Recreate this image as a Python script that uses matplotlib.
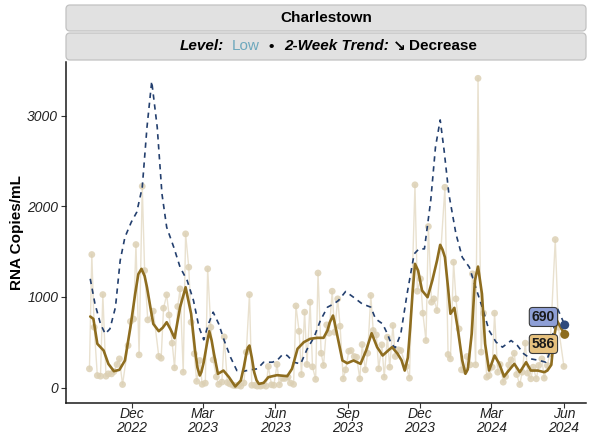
import numpy as np
import matplotlib
matplotlib.use("Agg")
import matplotlib.pyplot as plt
from matplotlib.patches import FancyBboxPatch

plt.rcParams['font.family'] = ['Liberation Sans', 'DejaVu Sans']

START = np.datetime64('2022-10-08')

# --- sample measurements (days since START, RNA copies/mL) ---
sample_day = [0, 3, 6, 10, 14, 17, 21, 24, 28, 31, 35, 38, 42, 49, 52, 56, 59, 63, 67, 70,
              74, 81, 88, 91, 94, 98, 101, 105, 108, 112, 115, 119, 122, 126, 129, 133, 136, 140, 143, 147,
              150, 154, 157, 161, 164, 168, 171, 175, 178, 182, 185, 189, 192, 196, 199, 203, 206, 210, 213, 217,
              220, 224, 227, 231, 234, 238, 241, 245, 248, 252, 255, 259, 262, 266, 269, 273, 276, 280, 283, 287,
              290, 294, 297, 301, 304, 308, 311, 315, 318, 322, 325, 329, 332, 336, 339, 343, 346, 350, 353, 357,
              360, 364, 367, 371, 374, 378, 381, 385, 388, 392, 395, 402, 406, 413, 416, 420, 423, 427, 430, 434,
              437, 441, 451, 455, 458, 462, 465, 469, 472, 476, 479, 483, 486, 490, 493, 497, 500, 504, 507, 511,
              514, 518, 521, 525, 528, 532, 535, 539, 542, 546, 549, 553, 556, 560, 563, 567, 570, 574, 577, 581,
              584, 591, 595, 602]
sample_rna = [206, 1467, 665, 132, 125, 1025, 125, 151, 150, 175, 254, 316, 33, 463, 728, 755, 1577, 360, 2220, 1290,
              746, 842, 343, 323, 875, 1022, 800, 489, 217, 893, 1088, 169, 1695, 1327, 720, 372, 68, 298, 35, 48,
              1309, 665, 305, 117, 35, 60, 558, 55, 40, 25, 20, 25, 15, 50, 390, 1025, 25, 25, 15, 15,
              25, 15, 232, 30, 25, 255, 30, 100, 100, 115, 50, 35, 900, 620, 143, 831, 254, 941, 228, 90,
              1263, 378, 243, 691, 599, 1062, 610, 978, 676, 96, 195, 400, 408, 342, 334, 96, 474, 195, 378, 1015,
              629, 580, 206, 471, 114, 555, 224, 684, 342, 416, 408, 232, 103, 2236, 1062, 1199, 820, 518, 1776, 941,
              978, 849, 2209, 364, 316, 1382, 978, 647, 195, 187, 342, 250, 1254, 250, 3411, 390, 820, 114, 132, 224,
              820, 169, 254, 59, 121, 250, 305, 378, 143, 33, 169, 489, 158, 96, 224, 96, 243, 316, 103, 243,
              372, 1632, 665, 232]

# --- smoothed trend (gold, solid) ---
smooth_day = [1, 5, 10, 18, 24, 31, 38, 45, 52, 58, 62, 66, 70, 73, 77, 81, 88, 93, 98, 103, 108, 115, 122, 129, 134,
              137, 140, 142, 145, 149, 152, 155, 158, 163, 170, 177, 185, 192, 196, 199, 201, 203, 206, 209, 212, 215, 221, 227, 238, 251, 257, 264, 272,
              280, 289, 297, 302, 305, 309, 311, 314, 321, 327, 335, 344, 351, 358, 365, 372, 379, 384, 391, 396, 400, 404, 407, 410, 413,
              417, 422, 429, 435, 441, 445, 448, 451, 455, 458, 463, 467, 473, 477, 480, 485, 489, 493, 498, 502, 507, 514, 520,
              526, 532, 539, 546, 554, 560, 569, 577, 581, 586, 589, 593, 603]
smooth_rna = [783, 757, 482, 408, 261, 180, 195, 298, 665, 1033, 1250, 1309, 1230, 1106, 900, 702, 621, 660, 720, 640, 544, 886, 1106, 813, 408,
              220, 132, 170, 279, 480, 621, 520, 372, 151, 187, 114, 11, 77, 230, 372, 440, 463, 330, 169, 80, 40, 51, 114, 136, 125, 206, 427, 500,
              537, 548, 548, 629, 720, 794, 720, 592, 298, 268, 298, 261, 408, 599, 445, 353, 408, 445, 372, 300, 187, 330, 665, 1050, 1364,
              1290, 1070, 996, 1180, 1401, 1574, 1520, 1437, 1100, 813, 879, 665, 298, 151, 200, 592, 1180, 1334, 1033, 482, 187, 353, 261,
              121, 187, 261, 169, 279, 187, 187, 169, 187, 250, 520, 740, 586]

# --- regional / comparison trend (navy, dashed) ---
region_day = [1, 7, 14, 20, 26, 33, 39, 45, 53, 60, 67, 73, 79, 86, 92, 98, 107, 115, 124, 132,
              139, 145, 151, 157, 164, 171, 179, 187, 196, 204, 213, 221, 232, 238, 245, 251, 259, 268, 276, 285,
              293, 302, 310, 316, 325, 335, 346, 357, 363, 372, 378, 383, 388, 395, 403, 412, 418, 425, 433, 439,
              445, 450, 456, 465, 473, 482, 490, 499, 507, 516, 524, 535, 543, 551, 560, 571, 579, 585, 590, 594,
              603]
region_rna = [1199, 923, 702, 592, 647, 886, 1401, 1658, 1823, 1934, 2209, 2871, 3378, 2871, 2136, 1768, 1547, 1327, 1180, 960,
              665, 526, 702, 831, 702, 518, 334, 187, 180, 195, 206, 279, 279, 298, 364, 353, 279, 261, 420, 555,
              739, 886, 923, 960, 1059, 996, 923, 886, 757, 702, 592, 482, 438, 592, 1033, 1474, 1529, 1529, 2062, 2650,
              2952, 2614, 2136, 1695, 1437, 1327, 1106, 868, 629, 500, 445, 518, 463, 372, 316, 298, 279, 408, 702, 868,
              690]

end_labels = ["690", "586"]
tick_months = ['2022-12-01', '2023-03-01', '2023-06-01', '2023-09-01', '2023-12-01', '2024-03-01', '2024-06-01']
tick_text = ['Dec\n2022', 'Mar\n2023', 'Jun\n2023', 'Sep\n2023', 'Dec\n2023', 'Mar\n2024', 'Jun\n2024']
y_ticks = [0, 1000, 2000, 3000]


def to_dates(days):
    return (START + np.array(days, dtype='timedelta64[D]')).astype('datetime64[D]').astype(object)


W, H = 589, 437
fig = plt.figure(figsize=(W / 100, H / 100), dpi=100)
ax = fig.add_axes([65.8 / W, (H - 403) / H, (586 - 65.8) / W, (403 - 62) / H])

C_PT = '#DCD0B4'
C_PTLINE = '#E9E1CF'
C_GOLD = '#8E6D1F'
C_NAVY = '#233F6E'

sx = to_dates(sample_day)
ax.plot(sx, sample_rna, color=C_PTLINE, lw=1.0, zorder=1)
ax.scatter(sx, sample_rna, s=24, color=C_PT, alpha=0.85, edgecolors='none', zorder=2)

ax.plot(to_dates(region_day), region_rna, color=C_NAVY, lw=1.2,
        linestyle=(0, (3.2, 2.8)), zorder=3)
ax.plot(to_dates(smooth_day), smooth_rna, color=C_GOLD, lw=1.9, zorder=4,
        solid_capstyle='round', solid_joinstyle='round')

# end points
ax.scatter(to_dates([region_day[-1]]), [region_rna[-1]], s=42, color='#2E4A7D', zorder=6, edgecolors='none')
ax.scatter(to_dates([smooth_day[-1]]), [smooth_rna[-1]], s=42, color=C_GOLD, zorder=6, edgecolors='none')

lab_x = to_dates([576])[0]
ax.text(lab_x, 778, end_labels[0], ha='center', va='center', fontsize=10, fontweight='bold', color='#1a1a1a',
        bbox=dict(boxstyle='round,pad=0.18,rounding_size=0.25', fc='#8E9FD6', ec='#3a3a3a', lw=0.8), zorder=7)
ax.text(lab_x, 480, end_labels[1], ha='center', va='center', fontsize=10, fontweight='bold', color='#1a1a1a',
        bbox=dict(boxstyle='round,pad=0.18,rounding_size=0.25', fc='#E7C27F', ec='#3a3a3a', lw=0.8), zorder=7)

ax.set_xlim(to_dates([-30])[0], to_dates([630])[0])
ax.set_ylim(-171, 3591)
ax.set_xticks([np.datetime64(m).astype(object) for m in tick_months])
ax.set_xticklabels(tick_text, fontsize=10, style='italic', color='#222222', linespacing=0.95)
ax.set_yticks(y_ticks)
ax.set_yticklabels([str(v) for v in y_ticks], fontsize=10, style='italic', color='#222222')
ax.tick_params(axis='both', length=3.5, width=0.8, color='#333333', pad=2)
ax.tick_params(axis='x', pad=-0.5)
for s in ['top', 'right']:
    ax.spines[s].set_visible(False)
for s in ['left', 'bottom']:
    ax.spines[s].set_color('#1a1a1a')
    ax.spines[s].set_linewidth(1.1)
ax.set_ylabel('RNA Copies/mL', fontsize=11, fontweight='bold', labelpad=2)

# --- facet strips ---
for (top, bot) in [(5, 31), (33, 60)]:
    p = FancyBboxPatch((66 / 100, (H - bot) / 100), (586 - 66) / 100, (bot - top) / 100,
                       boxstyle='round,pad=0,rounding_size=0.04', transform=fig.dpi_scale_trans,
                       fc='#E1E1E1', ec='#C2C2C2', lw=0.9)
    fig.add_artist(p)

fig.text(326 / W, (H - 18) / H, 'Charlestown', ha='center', va='center', fontsize=11, fontweight='bold')

pieces = [('Level:', dict(fontweight='bold', style='italic', color='black'), 7.7),
          ('Low', dict(fontweight='normal', color='#6DA8BD'), 9.4),
          ('\u2022', dict(fontweight='bold', color='black'), 10.0),
          ('2-Week Trend:', dict(fontweight='bold', style='italic', color='black'), 3.4),
          ('\u2198', dict(fontweight='bold', color='black', family=['DejaVu Sans']), 4.0),
          ('Decrease', dict(fontweight='bold', color='black'), 0)]
ycen = (H - 46.5) / H
fig.canvas.draw()
r = fig.canvas.get_renderer()
arts = []
x = 0.0
for txt, kw, gap in pieces:
    t = fig.text(0, ycen, txt, ha='left', va='center', fontsize=11, **kw)
    bb = t.get_window_extent(renderer=r)
    arts.append((t, x))
    x += bb.width + gap
total = x
x0 = 328.5 - total / 2
for t, off in arts:
    t.set_x((x0 + off) / W)

fig.savefig('out.png', dpi=100)
